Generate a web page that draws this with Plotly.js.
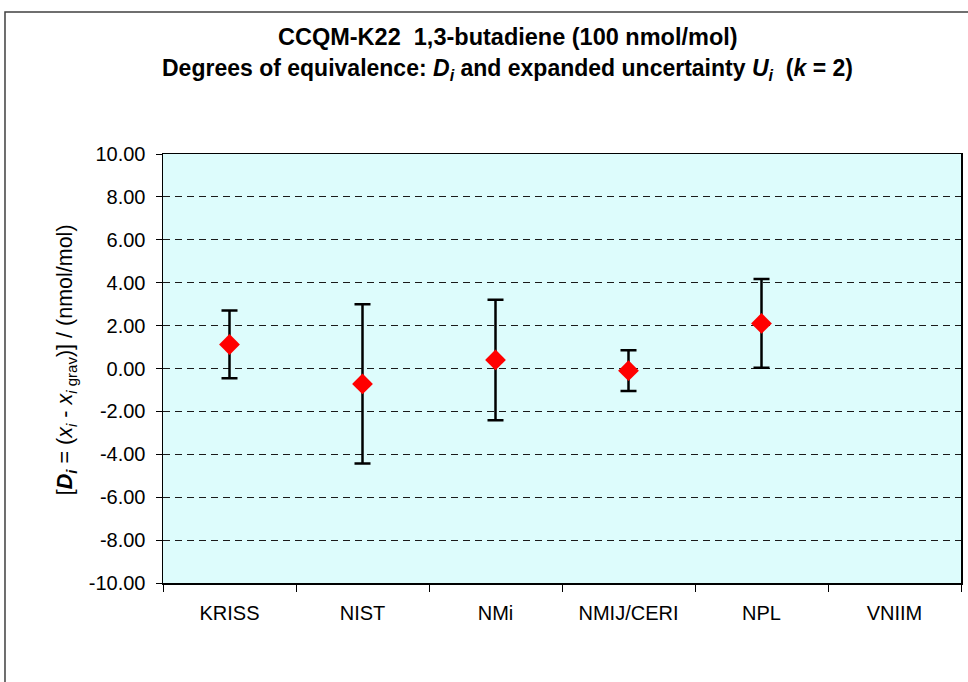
<!DOCTYPE html>
<html>
<head>
<meta charset="utf-8">
<script src="https://cdn.plot.ly/plotly-3.0.1.min.js"></script>
<style>html,body{margin:0;padding:0;background:#fff;}#chart{width:968px;height:682px;}</style>
</head>
<body>
<div id="chart"></div>
<script>
var categories = ["KRISS", "NIST", "NMi", "NMIJ/CERI", "NPL", "VNIIM"];
var degreesOfEquivalence = [1.12, -0.72, 0.40, -0.10, 2.10, null];
var expandedUncertainty = [1.58, 3.71, 2.81, 0.95, 2.07, null];
var yTickValues = [-10, -8, -6, -4, -2, 0, 2, 4, 6, 8, 10];
var yTickLabels = yTickValues.map(function (v) { return v.toFixed(2); });

var FONT = "Liberation Sans, Arial, sans-serif";

var trace = {
  type: "scatter",
  mode: "markers",
  x: categories,
  y: degreesOfEquivalence,
  marker: { symbol: "diamond", size: 16, color: "#ff0000", line: { width: 0 } },
  error_y: {
    type: "data",
    array: expandedUncertainty,
    symmetric: true,
    color: "#000000",
    thickness: 2.5,
    width: 8
  },
  hoverinfo: "x+y",
  showlegend: false
};

var layout = {
  width: 968,
  height: 682,
  margin: { l: 163, r: 7, t: 154, b: 99, pad: 0 },
  paper_bgcolor: "#ffffff",
  plot_bgcolor: "#ddfcfc",
  font: { family: FONT, size: 20, color: "#000000" },
  showlegend: false,
  xaxis: {
    type: "category",
    categoryorder: "array",
    categoryarray: categories,
    range: [-0.5, 5.5],
    tickson: "boundaries",
    ticks: "outside",
    ticklen: 7,
    tickwidth: 1,
    tickcolor: "#000000",
    showgrid: false,
    showline: true,
    linecolor: "#000000",
    linewidth: 1.5,
    mirror: true,
    ticklabelstandoff: 11,
    tickfont: { family: FONT, size: 20, color: "#000000" },
    fixedrange: true
  },
  yaxis: {
    range: [-10, 10],
    tickmode: "array",
    tickvals: yTickValues,
    ticktext: yTickLabels,
    ticks: "outside",
    ticklen: 6,
    tickwidth: 1,
    tickcolor: "#000000",
    showgrid: true,
    gridcolor: "#1a1a1a",
    gridwidth: 1,
    griddash: "7px,5px",
    zeroline: false,
    showline: true,
    linecolor: "#000000",
    linewidth: 1.5,
    mirror: true,
    ticklabelstandoff: 6,
    tickfont: { family: FONT, size: 20, color: "#000000" },
    fixedrange: true
  },
  annotations: [
    {
      xref: "paper", yref: "paper", x: 0.432, y: 1.2727,
      xanchor: "center", yanchor: "middle", showarrow: false,
      text: "<b>CCQM-K22\u00A0\u00A01,3-butadiene (100 nmol/mol)</b>",
      font: { family: FONT, size: 23.5, color: "#000000" }
    },
    {
      xref: "paper", yref: "paper", x: 0.432, y: 1.198,
      xanchor: "center", yanchor: "middle", showarrow: false,
      text: "<b>Degrees of equivalence: <i>D<sub>i</sub></i> and expanded uncertainty <i>U<sub>i</sub></i>\u00A0\u00A0(<i>k</i> = 2)</b>",
      font: { family: FONT, size: 23, color: "#000000" }
    },
    {
      xref: "paper", yref: "paper", x: -0.120, y: 0.52,
      xanchor: "center", yanchor: "middle", showarrow: false,
      textangle: -90,
      text: "[<b><i>D<sub>i</sub></i></b> = (<i>x<sub>i</sub></i> - <i>x</i><sub><i>i</i> grav</sub>)] / (nmol/mol)",
      font: { family: FONT, size: 21.5, color: "#000000" }
    }
  ],
  shapes: [
    {
      type: "rect", xref: "paper", yref: "paper",
      x0: -0.198, x1: 1.03, y0: -0.35, y1: 1.331,
      line: { color: "#404040", width: 1.5 },
      fillcolor: "rgba(0,0,0,0)",
      layer: "below"
    }
  ]
};

Plotly.newPlot("chart", [trace], layout, { staticPlot: true, displayModeBar: false });
</script>
</body>
</html>
